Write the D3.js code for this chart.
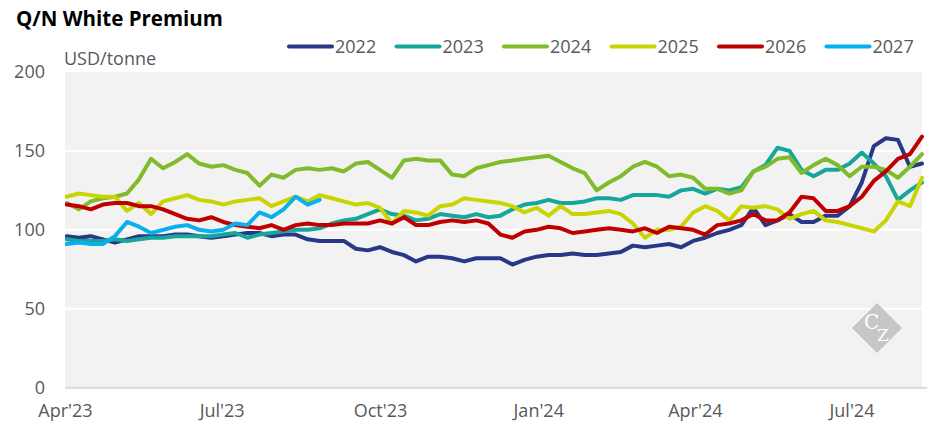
<!DOCTYPE html>
<html lang="en">
<head>
  <meta charset="UTF-8">
  <title>Q/N White Premium</title>
  <script src="https://d3js.org/d3.v7.min.js"></script>
  <style>
    body { margin: 0; background: #fff; }
    svg { display: block; font-family: "Open Sans", sans-serif; }
  </style>
</head>
<body>
  <svg id="chart" width="945" height="443"></svg>
  <script>
    // Weekly observation dates
    const dates = [
      "2023-04-02","2023-04-09","2023-04-16","2023-04-23","2023-04-30","2023-05-07","2023-05-14","2023-05-21",
      "2023-05-28","2023-06-04","2023-06-11","2023-06-18","2023-06-25","2023-07-02","2023-07-09","2023-07-16",
      "2023-07-23","2023-07-30","2023-08-06","2023-08-13","2023-08-20","2023-08-27","2023-09-03","2023-09-10",
      "2023-09-17","2023-09-24","2023-10-01","2023-10-08","2023-10-15","2023-10-22","2023-10-29","2023-11-05",
      "2023-11-12","2023-11-19","2023-11-26","2023-12-03","2023-12-10","2023-12-17","2023-12-24","2023-12-31",
      "2024-01-07","2024-01-14","2024-01-21","2024-01-28","2024-02-04","2024-02-11","2024-02-18","2024-02-25",
      "2024-03-03","2024-03-10","2024-03-17","2024-03-24","2024-03-31","2024-04-07","2024-04-14","2024-04-21",
      "2024-04-28","2024-05-05","2024-05-12","2024-05-19","2024-05-26","2024-06-02","2024-06-09","2024-06-16",
      "2024-06-23","2024-06-30","2024-07-07","2024-07-14","2024-07-21","2024-07-28","2024-08-04","2024-08-11"
    ];

    // USD/tonne per contract year
    const s2022 = [96,95,96,94,92,94,96,96,96,97,97,96,
                   95,96,97,98,98,96,97,97,94,93,93,93,88,
                   87,89,86,84,80,83,83,82,80,82,82,82,
                   78,81,83,84,84,85,84,84,85,86,90,89,
                   90,91,89,93,95,98,100,103,114,103,106,110,
                   105,105,109,109,115,130,153,158,157,140,142];
    const s2023 = [94,93,93,93,94,93,94,95,95,96,96,96,
                   96,97,98,95,97,98,99,100,100,101,104,106,107,
                   110,113,110,109,106,107,110,109,108,110,108,109,
                   113,116,117,119,117,117,118,120,120,119,122,122,
                   122,121,125,126,123,126,125,127,137,141,152,150,
                   138,134,138,138,142,149,142,134,119,125,130];
    const s2024 = [117,113,118,120,121,123,132,145,139,143,148,142,
                   140,141,138,136,128,135,133,138,139,138,139,137,142,
                   143,138,133,144,145,144,144,135,134,139,141,143,
                   144,145,146,147,143,139,136,125,130,134,140,143,
                   140,134,135,133,126,126,123,125,137,140,145,146,
                   136,141,145,141,134,140,140,138,133,140,148];
    const s2025 = [121,123,122,121,121,112,117,110,118,120,122,119,
                   118,116,118,119,120,115,118,121,118,122,120,118,116,
                   117,114,104,112,111,109,115,116,120,119,118,117,
                   115,111,114,109,115,110,110,111,112,110,104,95,
                   100,100,102,111,115,112,106,115,114,115,113,107,
                   110,112,106,105,103,101,99,106,118,115,133];
    const s2026 = [116,115,113,116,117,117,115,115,113,110,107,106,
                   108,105,103,102,101,103,100,103,104,103,103,104,104,
                   104,106,104,108,103,103,105,106,105,106,104,97,
                   95,99,100,102,101,98,99,100,101,100,99,101,
                   98,102,101,100,97,103,104,106,110,106,106,111,
                   121,120,112,112,115,121,131,137,145,148,159];
    const s2027 = [91,92,91,91,96,105,102,98,100,102,103,100,
                   99,100,104,103,111,108,113,121,116,119];

    const seriesNames = ["2022","2023","2024","2025","2026","2027"];
    const seriesValues = [s2022, s2023, s2024, s2025, s2026, s2027];
    const colors = ["#283886","#16a69c","#80bb2a","#c9d400","#c00000","#0ab0ee"];

    const yTicks = [0, 50, 100, 150, 200];
    const xTicks = ["2023-04-01","2023-07-01","2023-10-01","2024-01-01","2024-04-01","2024-07-01"];
    const xTickLabels = ["Apr'23","Jul'23","Oct'23","Jan'24","Apr'24","Jul'24"];

    const parse = d3.timeParse("%Y-%m-%d");
    const margin = { left: 65, right: 23, top: 72, bottom: 55 };
    const W = 945, H = 443;

    const svg = d3.select("#chart");

    const x = d3.scaleTime()
      .domain([parse("2023-04-01"), parse("2024-08-11")])
      .range([margin.left, W - margin.right]);
    const y = d3.scaleLinear()
      .domain([0, 200])
      .range([H - margin.bottom - 0.3, margin.top]);

    // Title
    svg.append("text")
      .attr("x", 16).attr("y", 26)
      .style("font-size", "20.5px").style("font-weight", "700").attr("fill", "#000")
      .text("Q/N White Premium");

    // Unit
    svg.append("text")
      .attr("x", 64).attr("y", 65)
      .style("font-size", "18px").attr("fill", "#595959")
      .text("USD/tonne");

    // Plot background
    svg.append("rect")
      .attr("x", x.range()[0]).attr("y", y(200))
      .attr("width", x.range()[1] - x.range()[0])
      .attr("height", y(0) - y(200))
      .attr("fill", "#f2f2f2");

    // Grid lines
    svg.append("g")
      .selectAll("line")
      .data(yTicks.filter(d => d > 0 && d < 200))
      .enter().append("line")
      .attr("x1", x.range()[0]).attr("x2", x.range()[1])
      .attr("y1", d => y(d)).attr("y2", d => y(d))
      .attr("stroke", "#fff").attr("stroke-width", 2);

    // Y axis labels
    const yAxis = svg.append("g")
      .attr("transform", `translate(${margin.left - 20},0)`)
      .call(d3.axisLeft(y).tickValues(yTicks).tickSize(0).tickPadding(0));
    yAxis.select(".domain").remove();
    yAxis.selectAll("text")
      .style("font-family", "Open Sans, sans-serif")
      .style("font-size", "18px").attr("fill", "#595959");

    // Watermark (single text, offset letters)
    const wm = svg.append("g").attr("transform", "translate(877,328)");
    wm.append("path").attr("d", "M0,-25L25,0L0,25L-25,0Z").attr("fill", "#c6c6c6");
    const wmText = wm.append("text")
      .style("font-family", "DejaVu Serif, serif")
      .attr("fill", "#fff");
    wmText.append("tspan").attr("x", -13).attr("y", 1)
      .style("font-size", "20px").text("C");
    wmText.append("tspan").attr("x", 0).attr("y", 13)
      .style("font-size", "17px").text("Z");

    // Series lines
    const line = d3.line()
      .defined(d => d.v != null)
      .x(d => x(d.date))
      .y(d => y(d.v));

    svg.append("clipPath").attr("id", "plotClip")
      .append("rect")
      .attr("x", x.range()[0]).attr("y", y(200) - 5)
      .attr("width", x.range()[1] - x.range()[0] + 2)
      .attr("height", y(0) - y(200) + 5);

    const lines = svg.append("g").attr("clip-path", "url(#plotClip)");
    seriesValues.forEach((vals, k) => {
      const pts = dates.map((d, i) => ({ date: parse(d), v: i < vals.length ? vals[i] : null }));
      lines.append("path")
        .datum(pts)
        .attr("fill", "none")
        .attr("stroke", colors[k])
        .attr("stroke-width", 4)
        .attr("stroke-linejoin", "round")
        .attr("stroke-linecap", "round")
        .attr("d", line);
    });

    // X axis baseline
    svg.append("line")
      .attr("x1", x.range()[0]).attr("x2", x.range()[1] + 5)
      .attr("y1", y(0)).attr("y2", y(0))
      .attr("stroke", "#d9d9d9").attr("stroke-width", 2);

    // X axis labels
    const xAxis = svg.append("g")
      .attr("transform", `translate(0,${y(0) + 17})`)
      .call(d3.axisBottom(x)
        .tickValues(xTicks.map(parse))
        .tickFormat((d, i) => xTickLabels[i])
        .tickSize(0).tickPadding(0));
    xAxis.select(".domain").remove();
    xAxis.selectAll("text")
      .style("font-family", "Open Sans, sans-serif")
      .style("font-size", "18px").attr("fill", "#595959");

    // Legend
    const legend = svg.append("g");
    seriesNames.forEach((name, k) => {
      const lx = 289 + k * 107.5;
      legend.append("line")
        .attr("x1", lx).attr("x2", lx + 43)
        .attr("y1", 46.5).attr("y2", 46.5)
        .attr("stroke", colors[k]).attr("stroke-width", 4)
        .attr("stroke-linecap", "round");
      legend.append("text")
        .attr("x", lx + 46).attr("y", 53)
        .style("font-size", "18px").attr("fill", "#595959")
        .text(name);
    });
  </script>
</body>
</html>
